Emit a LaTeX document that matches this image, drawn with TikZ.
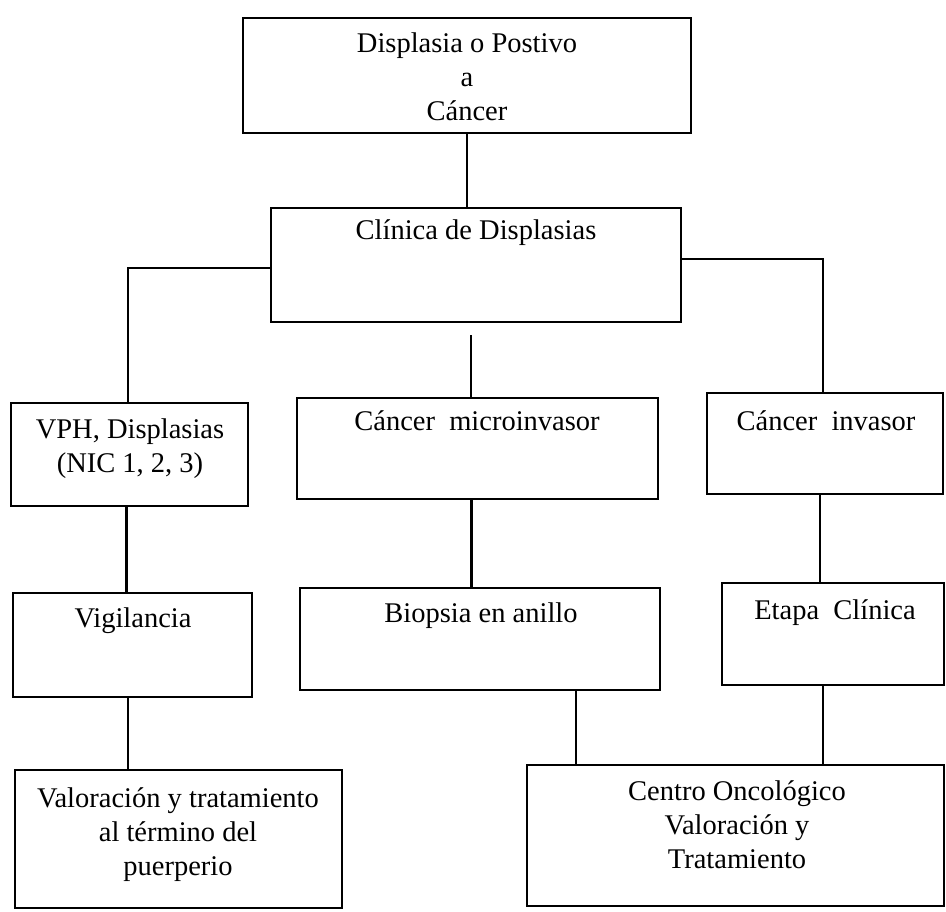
\documentclass[tikz,border=0pt]{standalone}
\usepackage{fontspec}
\setmainfont{Liberation Serif}
\begin{document}
\begin{tikzpicture}[x=0.5pt, y=-0.5pt,
  bx/.style 2 args={draw, line width=1.1pt, minimum width={#1*0.5pt}, minimum height={#2*0.5pt}, inner sep=0pt},
  txt/.style={align=center, inner sep=0pt, font=\fontsize{14.25pt}{17pt}\selectfont},
  link/.style={line width=1.1pt}]
\useasboundingbox (0,0) rectangle (946,911);

% boxes
\node[bx={448}{115}] (top)    at (467,75.5) {};
\node[bx={410}{114}] (clin)   at (476,265) {};
\node[bx={237}{103}] (vph)    at (129.5,454.5) {};
\node[bx={361}{101}] (micro)  at (477.5,448.5) {};
\node[bx={236}{101}] (inv)    at (825,443.5) {};
\node[bx={239}{104}] (vig)    at (132.5,645) {};
\node[bx={360}{102}] (bio)    at (480,639) {};
\node[bx={222}{102}] (etapa)  at (833,634) {};
\node[bx={327}{138}] (valor)  at (178.5,839) {};
\node[bx={417}{141}] (centro) at (735.5,835.5) {};

% labels
\node[txt] (ttop)    at (467,77)  {Displasia o Postivo\\a\\Cáncer};
\node[txt] (tclin)   at (476,233) {Clínica de Displasias};
\node[txt] (tvph)    at (130,449) {VPH, Displasias\\(NIC 1, 2, 3)};
\node[txt] (tmicro)  at (477,421) {Cáncer\ \ microinvasor};
\node[txt] (tinv)    at (826,421) {Cáncer\ \ invasor};
\node[txt] (tvig)    at (133,621) {Vigilancia};
\node[txt] (tbio)    at (481,616) {Biopsia en anillo};
\node[txt] (tetapa)  at (835,613) {Etapa\ \ Clínica};
\node[txt] (tvalor)  at (178,835) {Valoración y tratamiento\\al término del\\puerperio};
\node[txt] (tcentro) at (737,825) {Centro Oncológico\\Valoración y\\Tratamiento};

% connectors
\draw[link] (top.south) -- (top.south |- clin.north);
\draw[link] ([yshift=-1.5pt]clin.west) -| ([xshift=-0.75pt]vph.north);
\draw[link] ([yshift=3pt]clin.east) -| ([xshift=-1pt]inv.north);
\coordinate (midtop) at (471,335);
\draw[link] (midtop) -- (midtop |- micro.north);
\draw[link] ([xshift=-1.5pt]vph.south) -- ([xshift=-1.5pt]vph.south |- vig.north);
\draw[link] ([xshift=-2.25pt]vig.south) -- ([xshift=-2.25pt]vig.south |- valor.north);
\draw[link] ([xshift=-3pt]micro.south) -- ([xshift=-3pt]micro.south |- bio.north);
\draw[link] ([xshift=48pt]bio.south) -- ([xshift=48pt]bio.south |- centro.north);
\draw[link] ([xshift=-2.5pt]inv.south) -- ([xshift=-2.5pt]inv.south |- etapa.north);
\draw[link] ([xshift=-5pt]etapa.south) -- ([xshift=-5pt]etapa.south |- centro.north);
\end{tikzpicture}
\end{document}
